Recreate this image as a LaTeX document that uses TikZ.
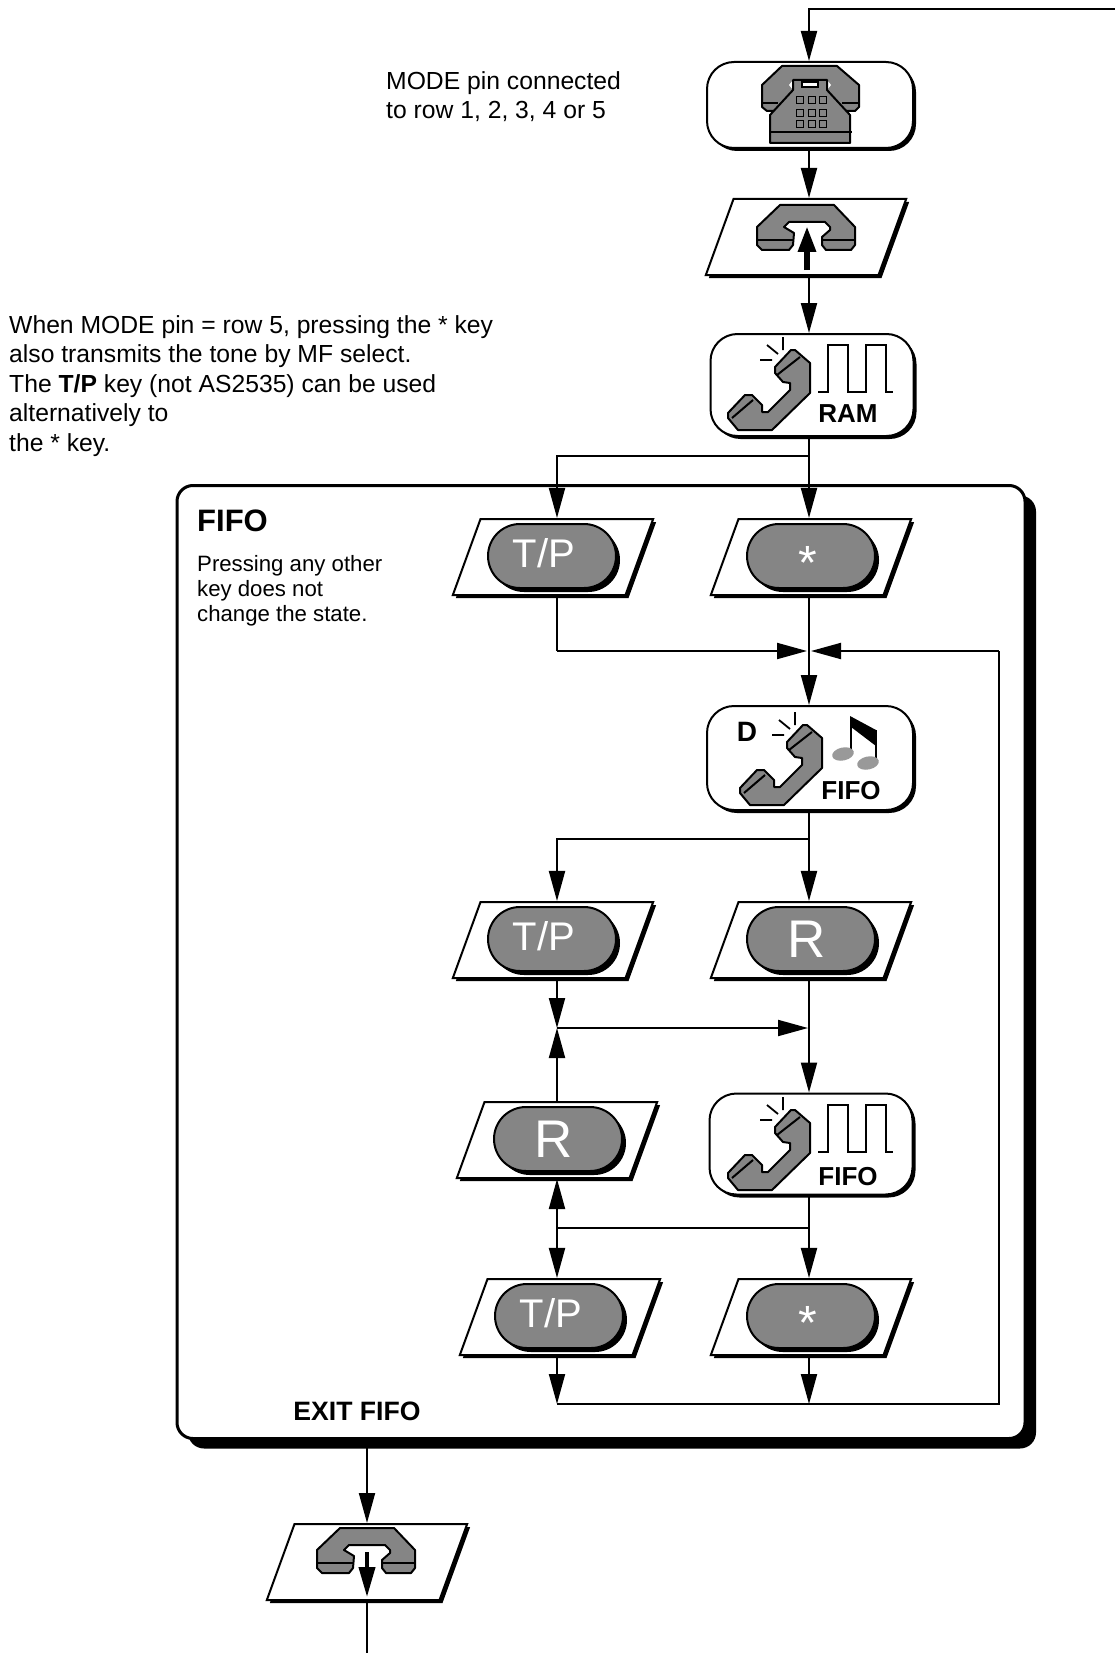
\documentclass[tikz,border=0pt]{standalone}
\usepackage{fontspec}
\setmainfont{Liberation Sans}
\usetikzlibrary{arrows.meta,shapes.geometric,shapes.misc,shadows}
\definecolor{keygray}{HTML}{858585}
\newcommand\keytp{\hspace*{-16pt}\raisebox{-11pt}[0pt][0pt]{\fontsize{40}{40}\selectfont T/P}}
\newcommand\keyr{\hspace*{-9pt}\fontsize{53}{53}\selectfont R}
\newcommand\keystar{\hspace*{-7pt}\raisebox{-23pt}[0pt][0pt]{\fontsize{48}{48}\selectfont *}}
\tikzset{
  flowarrow/.style={line width=2pt,-{Triangle[length=30pt,width=16pt]}},
  flowline/.style={line width=2pt},
  statebox/.style={draw=black,fill=white,line width=2pt,rectangle,rounded corners=27pt,minimum width=#1,
    drop shadow={shadow xshift=3pt,shadow yshift=-3pt,fill=black,opacity=1}},
  keybox/.style={draw=black,fill=white,line width=2pt,trapezium,trapezium left angle=70,trapezium right angle=110,
    text width=145pt,text height=76pt,text depth=0pt,inner sep=0pt,
    drop shadow={shadow xshift=3pt,shadow yshift=-3pt,fill=black,opacity=1}},
  keypill/.style={draw=black,fill=keygray,line width=2pt,rounded rectangle,minimum width=128pt,minimum height=64pt,
    text=white,inner sep=0pt,
    drop shadow={shadow xshift=4pt,shadow yshift=-4pt,fill=black,opacity=1}},
  note/.style={align=left,inner sep=0pt,anchor=north west,font=\fontsize{24.7}{29.5}\selectfont},
  small/.style={align=left,inner sep=0pt,anchor=north west,font=\fontsize{22.2}{25}\selectfont},
  boxlabel/.style={inner sep=0pt,font=\bfseries\fontsize{26}{30}\selectfont},
  pics/handset/.style={code={
    \draw[fill=keygray,line width=2pt,line join=round] (21,-40) -- (25,-40) -- (40,-27) -- (40,3) -- (2,40) -- (-32,40)
      -- (-42,28) -- (-42,23) -- (-25,5) -- (-18,5) -- (-8,15) -- (-8,22) -- (-2,22) -- (20,0) -- (20,-7)
      -- (13,-8) -- (5,-17) -- (5,-23) -- cycle;
    \draw[line width=2pt] (7,-15) -- (30,-33) (-38,28) -- (-17,10);
    \draw[line width=1.8pt] (13,-53) -- (13,-40) (-3,-45) -- (8,-36) (-10,-30) -- (2,-30);
  }},
  pics/pulse/.style={code={
    \draw[line width=2pt] (0,0) -- (10,0) -- (10,-47) -- (30,-47) -- (30,0) -- (48,0) -- (48,-47) -- (68,-47)
      -- (68,0) -- (75,0);
  }},
  pics/onhook/.style={code={
    \draw[fill=keygray,line width=2pt,line join=round] (-27,-22) -- (27,-22) -- (48,0) -- (48,18) -- (44,23)
      -- (19,23) -- (15,18) -- (15,10) -- (23,3) -- (23,0) -- (18,-5) -- (-18,-5) -- (-23,0) -- (-13,6)
      -- (-14,18) -- (-18,23) -- (-45,23) -- (-50,18) -- (-50,0) -- cycle;
    \draw[line width=2pt] (-50,13) -- (-14,13) (15,13) -- (48,13);
  }},
  pics/deskphone/.style={code={
    \draw[fill=keygray,line width=2pt,line join=round] (-28,-34) -- (27,-34) -- (49,-15) -- (49,7) -- (45,11)
      -- (-43,11) -- (-48,7) -- (-48,-15) -- cycle;
    \draw[line width=2pt] (-48,3) -- (-32,3) (32,3) -- (49,3);
    \draw[fill=white,draw=none] (-21,-15) -- (-17,-20) -- (-17,-10) -- cycle (21,-15) -- (17,-20) -- (17,-10) -- cycle;
    \draw[fill=keygray,line width=2pt,line join=round] (-40,43) -- (40,43) -- (40,15) -- (17,-10) -- (17,-20)
      -- (-17,-20) -- (-17,-10) -- (-40,15) -- cycle;
    \draw[fill=white,line width=1.4pt] (-8,-18) rectangle (8,-13);
    \draw[line width=2pt] (-40,32) -- (42,32);
    \foreach \x in {-10,2,13}{
      \foreach \y in {0,13,24}{
        \draw[fill=keygray,line width=1.8pt] (\x-3.5,\y-3.5) rectangle (\x+3.5,\y+3.5);
      }
    }
  }},
}
\begin{document}
\begin{tikzpicture}[x=1pt,y=-1pt]
  \useasboundingbox (0,0) rectangle (1115,1653);
  %FIFO FRAME
  \node[draw=black,fill=white,line width=3pt,rectangle,rounded corners=16pt,minimum width=848pt,minimum height=953pt,
    drop shadow={shadow xshift=11pt,shadow yshift=-10pt,fill=black,opacity=1}] (fifo) at (601,962) {};

  %STATE BOXES
  \node[statebox=206pt,minimum height=86pt] (phone) at (810,105) {};
  \node[statebox=203pt,minimum height=102pt] (ram) at (812,385) {};
  \node[statebox=206pt,minimum height=104pt] (ringing) at (810,758) {};
  \node[statebox=203pt,minimum height=101pt] (held) at (811,1144) {};

  %KEY BOXES
  \foreach \name/\x/\y/\lab/\px in {%
      tpa/553/557/\keytp/552,stara/811/557/\keystar/811,%
      tpb/553/940/\keytp/552,ra/811/940/\keyr/811,%
      rb/557/1140/\keyr/558,tpc/560/1317/\keytp/559,starb/811/1317/\keystar/811}{
    \node[keybox] (\name) at (\x,\y) {};
    \node[keypill] (pill\name) at (\px,\y-1) {\lab};
  }
  \node[keybox] (hookup) at (806,237) {};
  \node[keybox] (hookdown) at (367,1562) {};

  %ICONS
  \pic at (810,100) {deskphone};
  \pic at (807,227) {onhook};
  \pic at (367,1550) {onhook};
  \pic at (770,390) {handset};
  \pic at (818,392) {pulse};
  \pic at (782,765) {handset};
  \pic at (770,1150) {handset};
  \pic at (818,1152) {pulse};
  %NOTE SYMBOL
  \draw[line width=2pt] (851,717) -- (851,753) (876,730) -- (876,762);
  \fill[black] (850,716) -- (876,730) -- (876,746) -- (851,727) -- cycle;
  \fill[gray!80] (843,754) ellipse[x radius=11pt,y radius=6.5pt,rotate=12];
  \fill[gray!80] (868,763) ellipse[x radius=11pt,y radius=6.5pt,rotate=12];

  %LABELS
  \node[boxlabel] (ramlabel) at (848,414) {RAM};
  \node[boxlabel] (fifolabel) at (851,791) {FIFO};
  \node[boxlabel] (heldlabel) at (848,1177) {FIFO};
  \node[boxlabel,font=\bfseries\fontsize{28}{30}\selectfont] (dlabel) at (747,732) {D};
  \node[note] (modenote) at (386,71) {MODE pin connected\\to row 1, 2, 3, 4 or 5};
  \node[note] (rownote) at (9,315) {When MODE pin = row 5, pressing the * key\\also transmits the tone by MF select.\\
    The \textbf{T/P} key (not AS2535) can be used\\alternatively to\\the * key.};
  \node[inner sep=0pt,anchor=west,font=\bfseries\fontsize{31}{36}\selectfont] (fifotitle) at (197,521) {FIFO};
  \node[small] (pressnote) at (197,555) {Pressing any other\\key does not\\change the state.};
  \node[boxlabel,font=\bfseries\fontsize{26.6}{30}\selectfont] (exitlabel) at (357,1411) {EXIT FIFO};

  %JUNCTIONS
  \coordinate (trunk) at (809,0);
  \coordinate (side) at (557,0);
  \coordinate (entry) at (1115,9);
  \coordinate (bottomend) at (367,1653);
  \coordinate (ramjoin) at (809,456);
  \coordinate (mergeleft) at (557,651);
  \coordinate (mergeright) at (999,651);
  \coordinate (merge) at (809,651);
  \coordinate (ringjoin) at (809,839);
  \coordinate (tpjoin) at (557,1028);
  \coordinate (tpjoinend) at (808,1028);
  \coordinate (heldjoin) at (809,1228);
  \coordinate (heldjoinleft) at (557,1228);
  \coordinate (backleft) at (557,1404);
  \coordinate (backstar) at (809,1404);
  \coordinate (backright) at (999,1404);
  \coordinate (hookupfoot) at (807,270);
  \coordinate (hookuptip) at (807,226);
  \coordinate (hookdownhead) at (367,1552);
  \coordinate (hookdowntip) at (367,1597);

  %ARROWS
  \draw[flowarrow] (entry) -| (phone.north -| trunk);
  \draw[flowarrow] (phone.south -| trunk) -- (hookup.north -| trunk);
  \draw[flowarrow] (hookup.south -| trunk) -- (ram.north -| trunk);
  \draw[flowline] (ram.south -| trunk) -- (ramjoin);
  \draw[flowarrow] (ramjoin) -- (stara.north -| trunk);
  \draw[flowarrow] (ramjoin) -| (tpa.north -| side);
  \draw[flowline] (tpa.south -| side) -- (mergeleft);
  \draw[flowarrow] (mergeleft) -- ([xshift=-2pt]merge);
  \draw[flowarrow] (stara.south -| trunk) -- (ringing.north -| trunk);
  \draw[flowarrow] (mergeright) -- ([xshift=2pt]merge);
  \draw[flowline] (ringing.south -| trunk) -- (ringjoin);
  \draw[flowarrow] (ringjoin) -- (ra.north -| trunk);
  \draw[flowarrow] (ringjoin) -| (tpb.north -| side);
  \draw[flowarrow] (tpb.south -| side) -- (tpjoin);
  \draw[flowarrow] (tpjoin) -- (tpjoinend);
  \draw[flowarrow] (ra.south -| trunk) -- (held.north -| trunk);
  \draw[flowarrow] (rb.north -| side) -- (tpjoin);
  \draw[flowline] (held.south -| trunk) -- (heldjoin);
  \draw[flowline] (heldjoin) -- (heldjoinleft);
  \draw[flowarrow] (heldjoin) -- (starb.north -| trunk);
  \draw[flowarrow] (heldjoinleft) -- (tpc.north -| side);
  \draw[flowarrow] (heldjoinleft) -- (rb.south -| side);
  \draw[flowarrow] (tpc.south -| side) -- (backleft);
  \draw[flowarrow] (starb.south -| trunk) -- (backstar);
  \draw[flowline] (backleft) -- (backright) -- (mergeright);
  \draw[flowarrow] (fifo.south -| bottomend) -- (hookdown.north -| bottomend);
  \draw[flowline] (hookdown.south -| bottomend) -- (bottomend);
  %ARROWS INSIDE THE HOOK BOXES
  \draw[line width=6pt,-{Triangle[length=26pt,width=17pt]}] (hookupfoot) -- (hookuptip);
  \draw[line width=4pt,-{Triangle[length=30pt,width=16pt]}] (hookdownhead) -- (hookdowntip);
\end{tikzpicture}
\end{document}
